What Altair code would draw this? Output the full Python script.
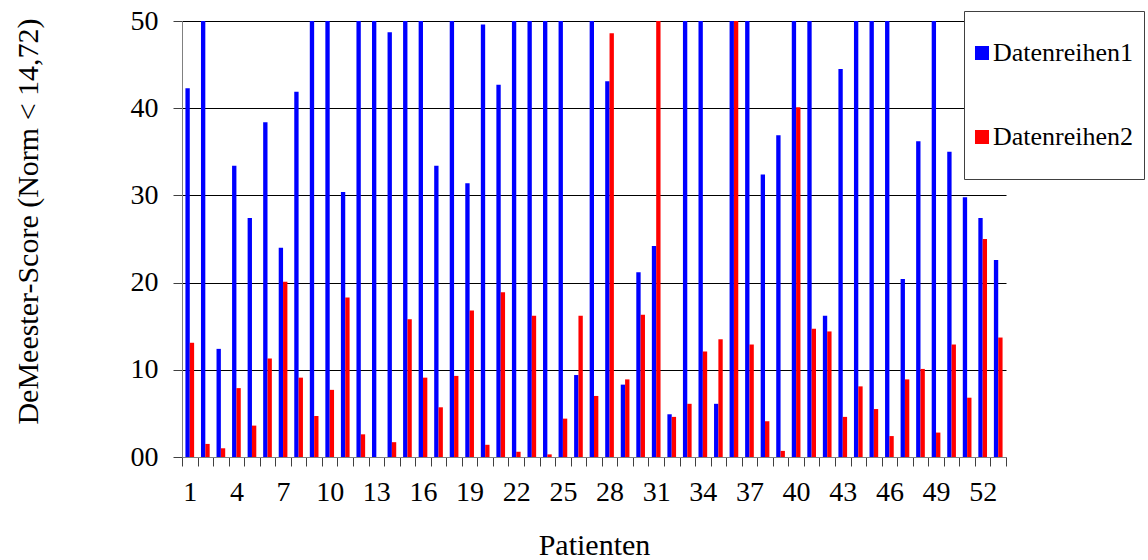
import altair as alt
import pandas as pd

# DeMeester scores per patient, two data series (values above 50 are shown at the axis limit)
patients = list(range(1, 54))
datenreihen1 = [
    42.3, 50, 12.4, 33.4, 27.4, 38.4, 24.0, 41.9, 50, 50,
    30.4, 50, 50, 48.7, 50, 50, 33.4, 50, 31.4, 49.6,
    42.7, 50, 50, 50, 50, 9.4, 50, 43.1, 8.3, 21.2,
    24.2, 4.9, 50, 50, 6.1, 50, 50, 32.4, 36.9, 50,
    50, 16.2, 44.5, 50, 50, 50, 20.4, 36.2, 50, 35.0,
    29.8, 27.4, 22.6,
]
datenreihen2 = [
    13.1, 1.5, 1.0, 7.9, 3.6, 11.3, 20.1, 9.1, 4.7, 7.7,
    18.3, 2.6, 0.0, 1.7, 15.8, 9.1, 5.7, 9.3, 16.8, 1.4,
    18.9, 0.6, 16.2, 0.3, 4.4, 16.2, 7.0, 48.6, 8.9, 16.3,
    50, 4.6, 6.1, 12.1, 13.5, 50, 12.9, 4.1, 0.7, 40.1,
    14.7, 14.4, 4.6, 8.1, 5.5, 2.4, 8.9, 10.1, 2.8, 12.9,
    6.8, 25.0, 13.7,
]
series_names = ["Datenreihen1", "Datenreihen2"]
series_colors = ["#0000ff", "#ff0000"]
y_ticks = [0, 10, 20, 30, 40, 50]

rows = []
for name, values in zip(series_names, [datenreihen1, datenreihen2]):
    for p, v in zip(patients, values):
        rows.append({"Patient": p, "Serie": name, "Wert": v})
df = pd.DataFrame(rows)

FONT = "Liberation Serif"

# square legend swatch plus an invisible vertical stroke that sets the row height
swatch = "M-0.219,-0.219H0.219V0.219H-0.219ZM0,-1L0,1"

chart = (
    alt.Chart(df)
    .mark_bar()
    .encode(
        x=alt.X(
            "Patient:O",
            scale=alt.Scale(paddingInner=0, paddingOuter=0),
            axis=alt.Axis(
                tickBand="extent",
                labelExpr="(datum.value - 1) % 3 == 0 ? datum.label : ''",
                labelAngle=0,
                labelOverlap=False,
                labelFont=FONT,
                labelFontSize=28,
                labelColor="black",
                labelPadding=12,
                tickSize=9,
                tickColor="#404040",
                domainColor="#808080",
                grid=False,
                title="Patienten",
                titleFont=FONT,
                titleFontSize=30,
                titleFontWeight="normal",
                titleColor="black",
                titleBaseline="alphabetic",
                titleY=97,
            ),
        ),
        xOffset=alt.XOffset(
            "Serie:N",
            sort=series_names,
            scale=alt.Scale(paddingInner=0, paddingOuter=0.79),
        ),
        y=alt.Y(
            "Wert:Q",
            scale=alt.Scale(domain=[0, 50], nice=False),
            axis=alt.Axis(
                values=y_ticks,
                labelExpr="datum.value == 0 ? '00' : datum.label",
                labelFont=FONT,
                labelFontSize=28,
                labelColor="black",
                labelPadding=15,
                tickSize=9,
                tickColor="#404040",
                domainColor="#808080",
                grid=True,
                gridColor={"condition": {"test": "datum.value === 0", "value": "#808080"}, "value": "#000000"},
                gridWidth=1,
                title="DeMeester-Score (Norm < 14,72)",
                titleFont=FONT,
                titleFontSize=30,
                titleFontWeight="normal",
                titleColor="black",
                titleAngle=270,
                titleAlign="center",
                titleBaseline="alphabetic",
                titleX=-145,
                titleY=200,
            ),
        ),
        color=alt.Color(
            "Serie:N",
            scale=alt.Scale(domain=series_names, range=series_colors),
            legend=alt.Legend(
                title=None,
                orient="none",
                legendX=782,
                legendY=-10,
                padding=10,
                rowPadding=20,
                fillColor="white",
                strokeColor="#404040",
                symbolType=swatch,
                symbolSize=4096,
                symbolStrokeWidth=0,
                symbolOffset={"expr": "-24"},
                labelFont=FONT,
                labelFontSize=26,
                labelColor="black",
                labelOffset={"expr": "-21"},
                labelLimit=400,
            ),
        ),
    )
    .properties(
        width=824,
        height=436,
        autosize=alt.AutoSizeParams(type="none"),
        padding={"left": 182, "top": 21, "right": 142, "bottom": 103},
    )
    .configure_view(stroke=None)
)

chart.save("out.html", embed_options={"renderer": "svg", "actions": False})
